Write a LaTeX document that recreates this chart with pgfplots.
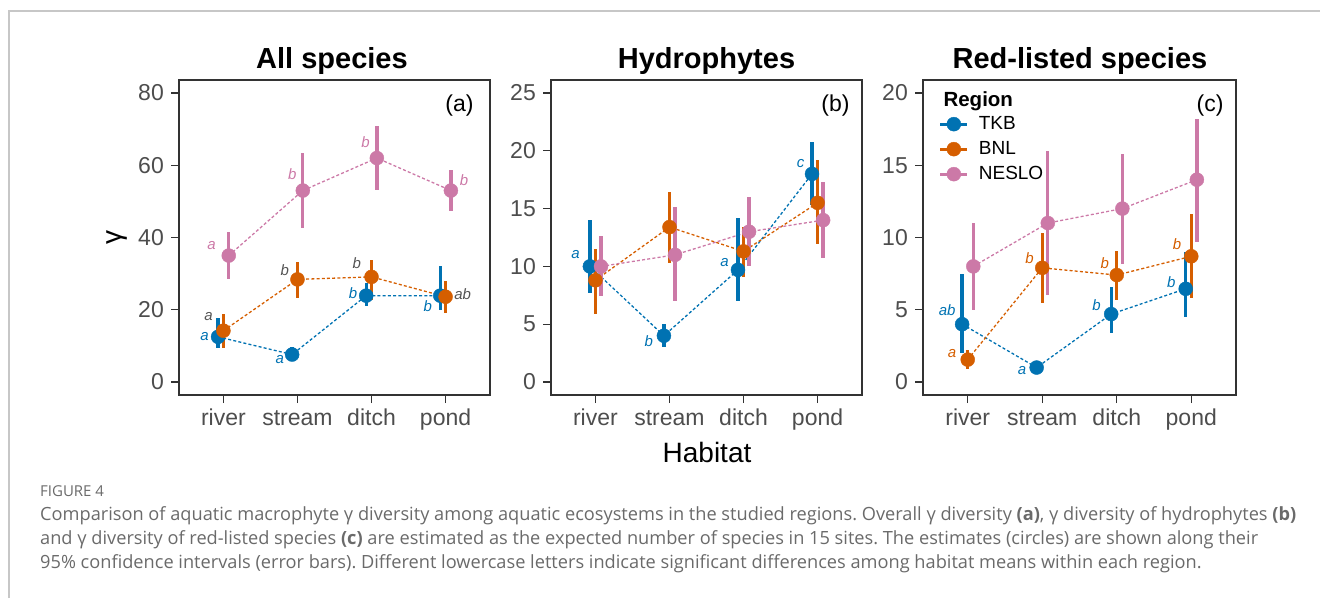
\documentclass[border=0pt]{standalone}
\usepackage{fontspec}
\setmainfont{Liberation Sans}
\newfontfamily\capfont{Open Sans}
\usepackage{pgfplots}
\usepackage{pgfplotstable}
\pgfplotsset{compat=1.18}

\definecolor{tkb}{HTML}{0072B2}
\definecolor{bnl}{HTML}{D55E00}
\definecolor{neslo}{HTML}{CC79A7}
\definecolor{ticklab}{HTML}{4D4D4D}
\definecolor{frame}{HTML}{333333}
\definecolor{lgray}{HTML}{555555}
\definecolor{capgray}{HTML}{6A6A6A}

% Panel (a): All species
\pgfplotstableread{
x y lo hi
1 12.5 9.5 17.6
2 7.6 6.0 9.7
3 23.9 21.1 27.5
4 23.9 19.9 32.1
}\aTKB
\pgfplotstableread{
x y lo hi
1 14.2 9.5 18.7
2 28.4 23.3 33.1
3 29.1 22.7 33.8
4 23.6 19.2 28.0
}\aBNL
\pgfplotstableread{
x y lo hi
1 35.0 28.6 41.4
2 53.0 42.7 63.4
3 62.0 53.2 70.9
4 53.0 47.4 58.7
}\aNESLO
% Panel (b): Hydrophytes
\pgfplotstableread{
x y lo hi
1 10.0 7.7 14.0
2 4.0 3.0 5.0
3 9.7 7.0 14.2
4 18.0 15.3 20.8
}\bTKB
\pgfplotstableread{
x y lo hi
1 8.8 5.9 11.5
2 13.4 10.3 16.4
3 11.3 9.1 13.4
4 15.5 11.9 19.2
}\bBNL
\pgfplotstableread{
x y lo hi
1 10.0 7.4 12.6
2 11.0 7.0 15.1
3 13.0 10.0 16.0
4 14.0 10.7 17.3
}\bNESLO
% Panel (c): Red-listed species
\pgfplotstableread{
x y lo hi
1 4.0 2.0 7.45
2 1.0 0.9 1.1
3 4.7 3.4 6.6
4 6.45 4.5 9.0
}\cTKB
\pgfplotstableread{
x y lo hi
1 1.55 0.9 2.2
2 7.9 5.5 10.3
3 7.4 5.65 9.1
4 8.7 5.8 11.6
}\cBNL
\pgfplotstableread{
x y lo hi
1 8.0 4.96 11.0
2 11.0 6.0 15.96
3 12.0 8.2 15.76
4 14.0 9.7 18.2
}\cNESLO

\pgfplotsset{
  panel/.style={
    anchor=south west, scale only axis, height=315pt,
    xmin=0.4, xmax=4.6, xtick={1,2,3,4}, xticklabels={river,stream,ditch,pond},
    tick align=outside, tick pos=left, major tick length=8pt,
    tick style={line width=1.1pt, color=frame},
    axis line style={line width=1.1pt, color=frame},
    ticklabel style={font=\fontsize{23}{23}\selectfont, text=ticklab},
    xticklabel style={inner sep=0pt, text height=16.5pt, text depth=5pt, yshift=-6pt},
    yticklabel style={inner sep=0pt, xshift=-7pt},
    /pgf/number format/assume math mode=true,
    clip=false,
  },
}
\newcommand{\dline}[3]{%
  \addplot[#2, no marks, line width=1.3pt, dash pattern=on 3pt off 2.2pt, forget plot]
    table[x expr=\thisrow{x}+#3, y=y] {#1};}
\newcommand{\prange}[3]{%
  \addplot[#2, only marks, mark=*, mark size=7pt, mark options={fill=#2, draw=none}, forget plot,
    error bars/.cd, y dir=both, y explicit, error mark=none,
    error bar style={line width=3.3pt, #2}]
    table[x expr=\thisrow{x}+#3, y=y,
          y error plus expr=\thisrow{hi}-\thisrow{y},
          y error minus expr=\thisrow{y}-\thisrow{lo}] {#1};}
\newcommand{\lett}[4]{\node[font=\fontsize{15}{15}\selectfont\itshape, text=#1] at (axis cs:#2,#3) {#4};}

\begin{document}
\frenchspacing
\begin{tikzpicture}
\path[use as bounding box] (0,0) rectangle (1320pt,598pt);
\draw[color=black!22, line width=1.2pt] (9pt,0pt) -- (9pt,587pt) -- (1320pt,587pt);

% ---------- (a)
\begin{axis}[panel, at={(179pt,203pt)}, width=311pt, ymin=-3.6, ymax=83.6, ytick={0,20,40,60,80}]
\dline{\aTKB}{tkb}{-0.072}
\dline{\aBNL}{bnl}{0}
\dline{\aNESLO}{neslo}{0.072}
\prange{\aTKB}{tkb}{-0.072}
\prange{\aBNL}{bnl}{0}
\prange{\aNESLO}{neslo}{0.072}
\lett{tkb}{0.746}{12.5}{a}
\lett{tkb}{1.76}{6.1}{a}
\lett{tkb}{2.75}{24.6}{b}
\lett{tkb}{3.76}{21.0}{b}
\lett{lgray}{0.80}{18.0}{a}
\lett{lgray}{1.83}{31.0}{b}
\lett{lgray}{2.80}{32.9}{b}
\lett{lgray}{4.23}{24.4}{ab}
\lett{neslo}{0.84}{37.9}{a}
\lett{neslo}{1.93}{57.6}{b}
\lett{neslo}{2.92}{66.4}{b}
\lett{neslo}{4.25}{55.9}{b}
\end{axis}

% ---------- (b)
\begin{axis}[panel, at={(551pt,203pt)}, width=311pt, ymin=-1.125, ymax=26.125, ytick={0,5,10,15,20,25}]
\dline{\bTKB}{tkb}{-0.075}
\dline{\bBNL}{bnl}{0}
\dline{\bNESLO}{neslo}{0.075}
\prange{\bTKB}{tkb}{-0.075}
\prange{\bBNL}{bnl}{0}
\prange{\bNESLO}{neslo}{0.075}
\lett{tkb}{0.73}{11.0}{a}
\lett{tkb}{1.72}{3.57}{b}
\lett{tkb}{2.745}{10.3}{a}
\lett{tkb}{3.77}{18.9}{c}
\end{axis}

% ---------- (c)
\begin{axis}[panel, at={(923pt,203pt)}, width=313pt, ymin=-0.9, ymax=20.9, ytick={0,5,10,15,20},
  legend style={at={(axis description cs:0.05,0.889)}, anchor=north west, draw=none, fill=none,
    inner sep=0pt, font=\fontsize{19}{19}\selectfont, row sep=7pt,
    nodes={inner sep=0pt, text height=14pt, text depth=4pt}},
  legend cell align=left,
  legend image code/.code={\draw[line width=3pt] (0pt,0pt) -- (27pt,0pt);
     \fill (13.5pt,0pt) circle (7pt);},
  legend style={/tikz/every odd column/.append style={column sep=10pt}}]
\dline{\cTKB}{tkb}{-0.075}
\dline{\cBNL}{bnl}{0}
\dline{\cNESLO}{neslo}{0.075}
\prange{\cTKB}{tkb}{-0.075}
\prange{\cBNL}{bnl}{0}
\prange{\cNESLO}{neslo}{0.075}
\lett{tkb}{0.725}{4.98}{ab}
\lett{tkb}{1.73}{0.76}{a}
\lett{tkb}{2.73}{5.33}{b}
\lett{tkb}{3.73}{6.94}{b}
\lett{bnl}{0.79}{1.99}{a}
\lett{bnl}{1.83}{8.56}{b}
\lett{bnl}{2.84}{8.26}{b}
\lett{bnl}{3.81}{9.55}{b}
\addlegendimage{tkb}\addlegendentry{TKB}
\addlegendimage{bnl}\addlegendentry{BNL}
\addlegendimage{neslo}\addlegendentry{NESLO}
\end{axis}

% titles and labels
\node[anchor=base, font=\fontsize{29}{29}\selectfont\bfseries] at (332pt,529pt) {All species};
\node[anchor=base, font=\fontsize{29}{29}\selectfont\bfseries] at (706.5pt,529pt) {Hydrophytes};
\node[anchor=base, font=\fontsize{29}{29}\selectfont\bfseries] at (1080pt,529pt) {Red-listed species};
\node[anchor=base east, font=\fontsize{23}{23}\selectfont] at (477pt,486pt) {(a)};
\node[anchor=base east, font=\fontsize{23}{23}\selectfont] at (853pt,486pt) {(b)};
\node[anchor=base east, font=\fontsize{23}{23}\selectfont] at (1227pt,486pt) {(c)};
\node[anchor=base west, font=\fontsize{20.5}{20.5}\selectfont\bfseries] at (940pt,491pt) {Region};
\node[rotate=90, font=\fontsize{28}{28}\selectfont] at (117pt,360pt) {γ};
\node[anchor=base, font=\fontsize{28}{28}\selectfont] at (707pt,136pt) {Habitat};

% caption
\node[anchor=base west, inner sep=0pt, text=capgray, font=\capfont\fontsize{15}{15}\selectfont] at (40pt,102pt) {FIGURE 4};
\node[anchor=base west, inner sep=0pt, text=capgray, font=\capfont\fontsize{18.2}{18.2}\selectfont] at (40pt,78pt)
  {Comparison of aquatic macrophyte γ diversity among aquatic ecosystems in the studied regions. Overall γ diversity \textbf{(a)}, γ diversity of hydrophytes \textbf{(b)}};
\node[anchor=base west, inner sep=0pt, text=capgray, font=\capfont\fontsize{18.2}{18.2}\selectfont] at (40pt,54pt)
  {and γ diversity of red-listed species \textbf{(c)} are estimated as the expected number of species in 15 sites. The estimates (circles) are shown along their};
\node[anchor=base west, inner sep=0pt, text=capgray, font=\capfont\fontsize{18.2}{18.2}\selectfont] at (40pt,30pt)
  {95\% confidence intervals (error bars). Different lowercase letters indicate significant differences among habitat means within each region.};
\end{tikzpicture}
\end{document}
